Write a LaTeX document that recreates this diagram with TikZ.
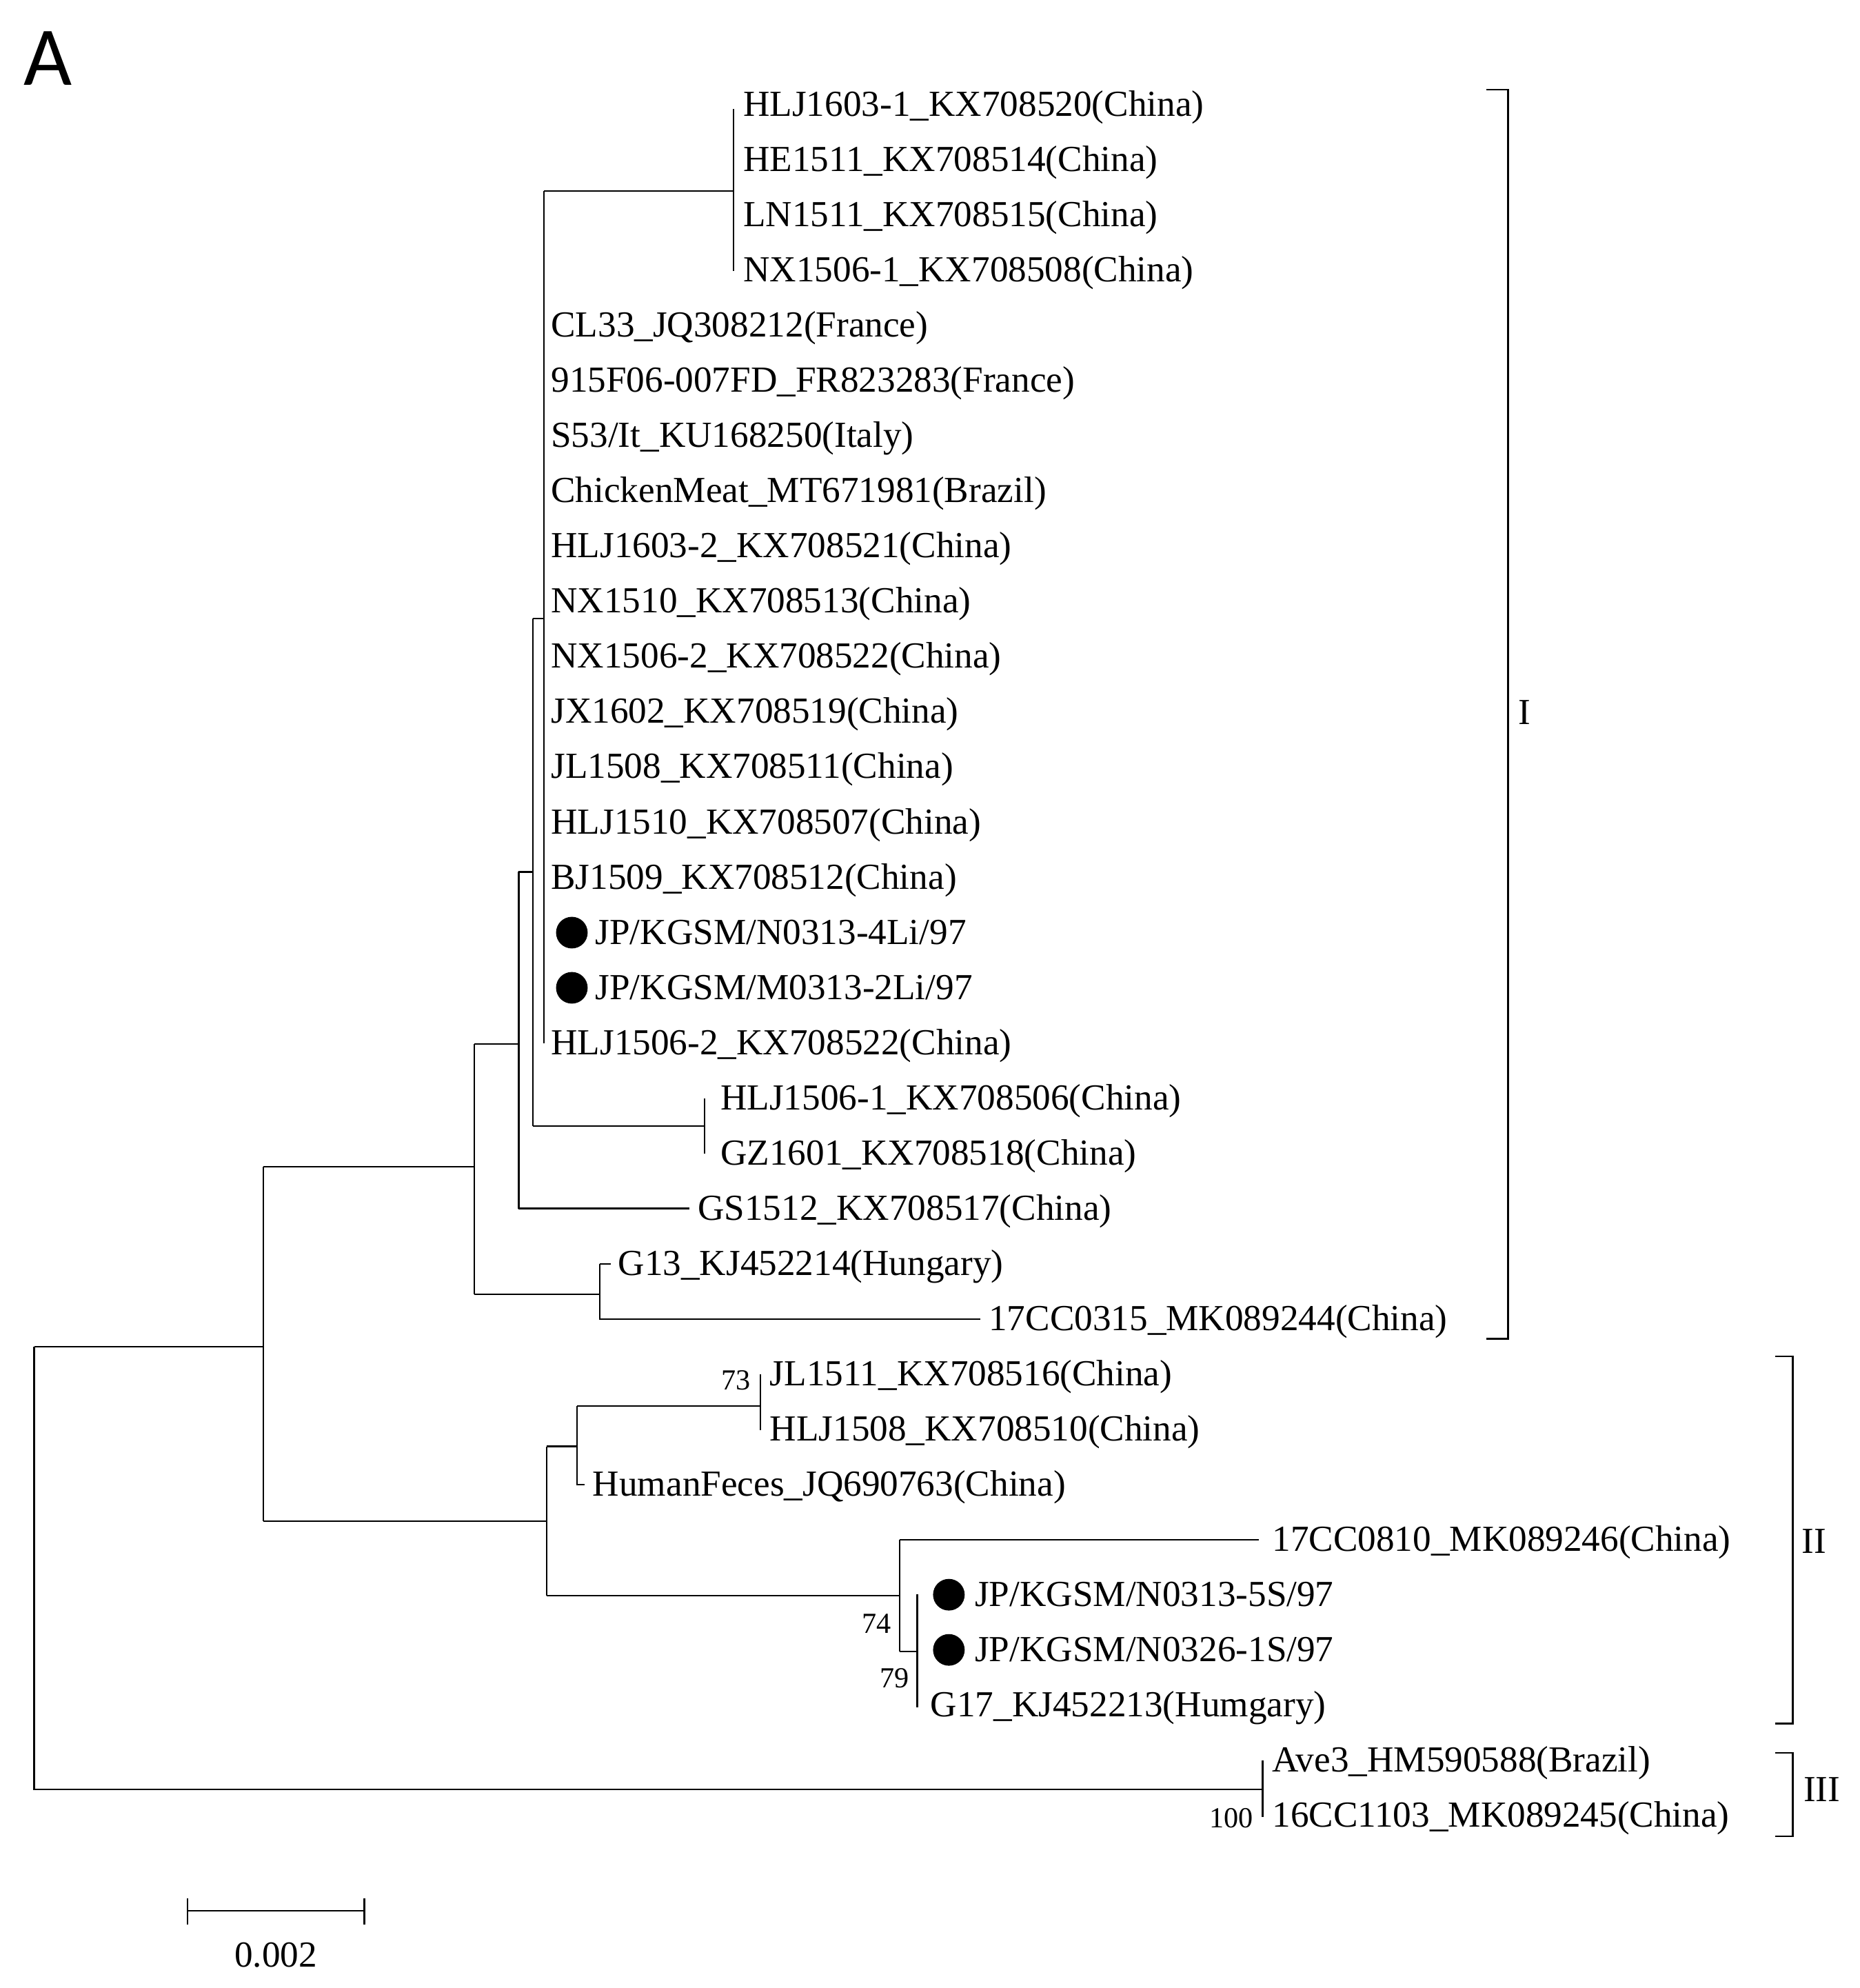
\documentclass[tikz,border=0pt]{standalone}
\usepackage{fontspec}
\setmainfont{Liberation Serif}
\newfontfamily\afont{Carlito}
\begin{document}
\begin{tikzpicture}[x=1pt,y=-1pt,line width=1.2pt,
  lf/.style={anchor=base west,inner sep=0pt,font=\fontsize{29}{30}\selectfont},
  bs/.style={inner sep=0pt,font=\fontsize{23}{24}\selectfont},
  dot/.style={circle,fill=black,inner sep=0pt,minimum size=25pt},
  br/.style={line width=1.3pt}]
\useasboundingbox (0,0) rectangle (1470,1571);
\node[font=\afont\fontsize{66}{66}\selectfont,inner sep=0pt] (A) at (38,46) {A};
% leaves
\node[lf] (l0) at (587,92) {HLJ1603-1\_KX708520(China)};
\node[lf] (l1) at (587,135.6) {HE1511\_KX708514(China)};
\node[lf] (l2) at (587,179.2) {LN1511\_KX708515(China)};
\node[lf] (l3) at (587,222.8) {NX1506-1\_KX708508(China)};
\node[lf] (l4) at (435,266.4) {CL33\_JQ308212(France)};
\node[lf] (l5) at (435,310) {915F06-007FD\_FR823283(France)};
\node[lf] (l6) at (435,353.6) {S53/It\_KU168250(Italy)};
\node[lf] (l7) at (435,397.2) {ChickenMeat\_MT671981(Brazil)};
\node[lf] (l8) at (435,440.8) {HLJ1603-2\_KX708521(China)};
\node[lf] (l9) at (435,484.4) {NX1510\_KX708513(China)};
\node[lf] (l10) at (435,528) {NX1506-2\_KX708522(China)};
\node[lf] (l11) at (435,571.6) {JX1602\_KX708519(China)};
\node[lf] (l12) at (435,615.2) {JL1508\_KX708511(China)};
\node[lf] (l13) at (435,658.8) {HLJ1510\_KX708507(China)};
\node[lf] (l14) at (435,702.4) {BJ1509\_KX708512(China)};
\node[lf] (l15) at (470,746) {JP/KGSM/N0313-4Li/97};
\node[lf] (l16) at (470,789.6) {JP/KGSM/M0313-2Li/97};
\node[lf] (l17) at (435,833.2) {HLJ1506-2\_KX708522(China)};
\node[lf] (l18) at (569,876.8) {HLJ1506-1\_KX708506(China)};
\node[lf] (l19) at (569,920.4) {GZ1601\_KX708518(China)};
\node[lf] (l20) at (551,964) {GS1512\_KX708517(China)};
\node[lf] (l21) at (488,1007.6) {G13\_KJ452214(Hungary)};
\node[lf] (l22) at (781,1051.2) {17CC0315\_MK089244(China)};
\node[lf] (l23) at (608,1094.8) {JL1511\_KX708516(China)};
\node[lf] (l24) at (608,1138.4) {HLJ1508\_KX708510(China)};
\node[lf] (l25) at (468,1182) {HumanFeces\_JQ690763(China)};
\node[lf] (l26) at (1005,1225.6) {17CC0810\_MK089246(China)};
\node[lf] (l27) at (770,1269.2) {JP/KGSM/N0313-5S/97};
\node[lf] (l28) at (770,1312.8) {JP/KGSM/N0326-1S/97};
\node[lf] (l29) at (735,1356.4) {G17\_KJ452213(Humgary)};
\node[lf] (l30) at (1005,1400) {Ave3\_HM590588(Brazil)};
\node[lf] (l31) at (1005,1443.6) {16CC1103\_MK089245(China)};
\node[dot] (d15) at (452,737) {};
\node[dot] (d16) at (452,780.6) {};
\node[dot] (d27) at (750,1260.2) {};
\node[dot] (d28) at (750,1303.8) {};
% internal nodes
\coordinate (r) at (27,1064);
\coordinate (n208) at (208,1064);
\coordinate (n375) at (375,922);
\coordinate (n474) at (474,1023);
\coordinate (n410) at (410,825);
\coordinate (n421) at (421,689);
\coordinate (n430) at (430,489);
\coordinate (n580) at (580,151);
\coordinate (n557) at (557,890);
\coordinate (n432) at (432,1202);
\coordinate (n456) at (456,1143);
\coordinate (n601) at (601,1111);
\coordinate (n711) at (711,1261);
\coordinate (n725) at (725,1305);
\coordinate (n998) at (998,1414);
% tree
\draw (27,1064) -- (n208) (27,1064) -- (27,1414) -- (n998);
\draw (998,1391) -- (998,1436);
\draw (208,922) -- (208,1202);
\draw (208,922) -- (n375) (208,1202) -- (n432);
\draw (375,825) -- (375,1023);
\draw (375,825) -- (n410) (375,1023) -- (n474);
\draw (474,999) -- (474,1043) (474,999) -- (483,999) (474,1042.2) -- (775,1042.2);
\draw (410,689) -- (410,955) (410,955) -- (545,955);
\draw (410,689) -- (n421);
\draw (421,489) -- (421,890);
\draw (421,489) -- (n430) (421,890) -- (n557);
\draw (557,868) -- (557,911.4);
\draw (430,151) -- (430,824.2);
\draw (430,151) -- (n580);
\draw (580,86) -- (580,214);
\draw (432,1143) -- (432,1261);
\draw (432,1143) -- (n456) (432,1261) -- (n711);
\draw (456,1111) -- (456,1173) -- (462,1173);
\draw (456,1111) -- (n601);
\draw (601,1086) -- (601,1130);
\draw (711,1217) -- (711,1305) (711,1217) -- (995,1217);
\draw (711,1305) -- (n725);
\draw (725,1260) -- (725,1349);
% bootstrap
\node[bs,anchor=east] (b73) at (594,1091) {73};
\node[bs,anchor=east] (b74) at (705,1283) {74};
\node[bs,anchor=east] (b79) at (719,1326) {79};
\node[bs,anchor=east] (b100) at (991,1437) {100};
% brackets
\draw[br] (1175,71) -- (1192,71) -- (1192,1058) -- (1175,1058);
\node[lf,anchor=center] (cI) at (1205,563) {I};
\draw[br] (1403,1072) -- (1417,1072) -- (1417,1362) -- (1403,1362);
\node[lf,anchor=center] (cII) at (1434,1218) {II};
\draw[br] (1403,1385) -- (1417,1385) -- (1417,1451) -- (1403,1451);
\node[lf,anchor=center] (cIII) at (1440,1414) {III};
% scale
\coordinate (s1) at (148,1510);
\coordinate (s2) at (288,1510);
\draw (s1) -- (s2) (148,1500) -- (148,1521) (288,1500) -- (288,1521);
\node[lf,anchor=center] (sc) at (218,1545) {0.002};
\end{tikzpicture}
\end{document}
